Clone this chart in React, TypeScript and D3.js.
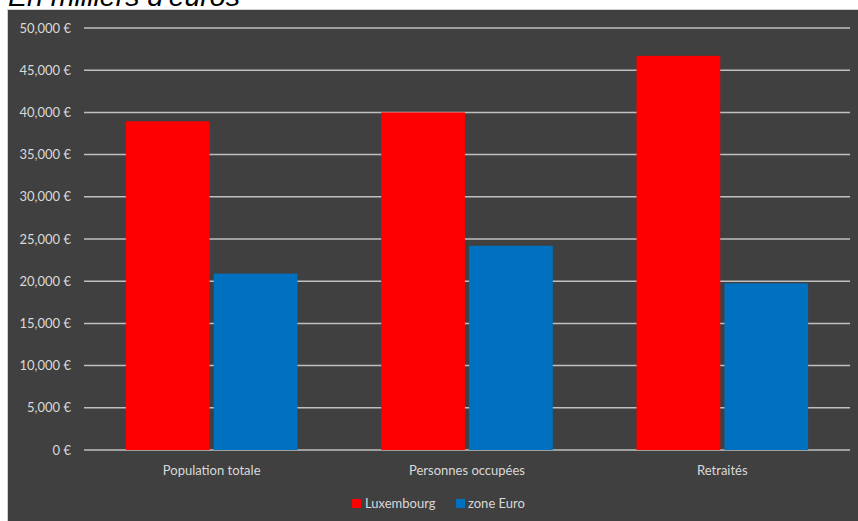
import React from "react";
import * as d3 from "d3";

const categories = ["Population totale", "Personnes occupées", "Retraités"];
const seriesNames = ["Luxembourg", "zone Euro"];
const luxembourg = [38950, 40000, 46700];
const zoneEuro = [20900, 24200, 19750];
const yTicks = [0, 5000, 10000, 15000, 20000, 25000, 30000, 35000, 40000, 45000, 50000];
const title = "En milliers d'euros";
const colors = ["#ff0000", "#0070c0"];

const W = 858;
const H = 521;
const plot = { left: 84, right: 850, top: 28, bottom: 450 };

export default function App() {
  const x0 = d3.scaleBand<string>().domain(categories).range([plot.left, plot.right]).paddingInner(0).paddingOuter(0);
  const bw = x0.bandwidth();
  const barW = bw / 3.05;
  const innerGap = barW * 0.05;
  const y = d3.scaleLinear().domain([0, 50000]).range([plot.bottom, plot.top]);
  const fmt = (v: number) => (v === 0 ? "0 €" : d3.format(",")(v) + " €");
  const series = [luxembourg, zoneEuro];
  const textColor = "#d9d9d9";
  const font = "Lato, 'Noto Sans', sans-serif";

  return (
    <svg width={W} height={H} style={{ position: "fixed", left: 0, top: 0, background: "#fff" }}>
      <rect x={7.5} y={9.5} width={W} height={H} fill="#404040" stroke="#d0d0d0" strokeWidth={1} />
      <text x={8} y={6} fontFamily="Arial, 'Liberation Sans', sans-serif" fontStyle="italic" fontSize={28.5} fill="#000">
        {title}
      </text>
      {yTicks.map((t) => (
        <g key={t}>
          <line x1={plot.left} x2={plot.right} y1={y(t)} y2={y(t)} stroke="#bfbfbf" strokeWidth={1.5} />
          <text x={71} y={y(t)} dy="0.35em" textAnchor="end" fontFamily={font} fontSize={13} fill={textColor}>
            {fmt(t)}
          </text>
        </g>
      ))}
      {categories.map((c, i) => {
        const center = (x0(c) as number) + bw / 2;
        return (
          <g key={c}>
            {series.map((s, k) => {
              const xs = k === 0 ? center - innerGap / 2 - barW : center + innerGap / 2;
              return (
                <rect key={k} x={xs} y={y(s[i])} width={barW} height={y(0) - y(s[i])} fill={colors[k]} />
              );
            })}
            <text x={center} y={475} textAnchor="middle" fontFamily={font} fontSize={13} fill={textColor}>
              {c}
            </text>
          </g>
        );
      })}
      <g>
        <rect x={352} y={499} width={9} height={9} fill={colors[0]} />
        <text x={365} y={507.5} fontFamily={font} fontSize={13} fill={textColor}>{seriesNames[0]}</text>
        <rect x={456} y={499} width={9} height={9} fill={colors[1]} />
        <text x={468} y={507.5} fontFamily={font} fontSize={13} fill={textColor}>{seriesNames[1]}</text>
      </g>
    </svg>
  );
}
